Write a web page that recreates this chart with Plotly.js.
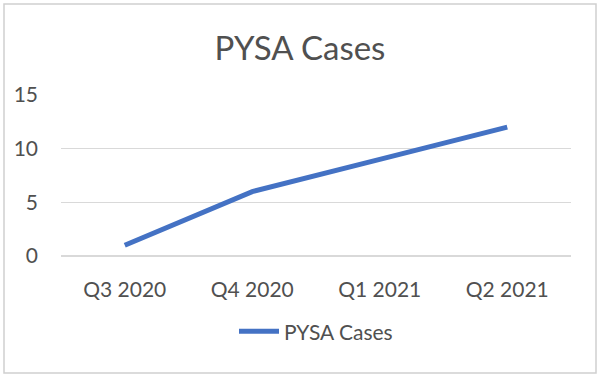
<!DOCTYPE html>
<html>
<head>
<meta charset="utf-8">
<script src="https://cdn.plot.ly/plotly-3.0.1.min.js"></script>
<style>
  html, body { margin: 0; padding: 0; background: #ffffff; }
  #chart { width: 600px; height: 377px; }
</style>
</head>
<body>
<div id="chart"></div>
<script>
const categories = ["Q3 2020", "Q4 2020", "Q1 2021", "Q2 2021"];
const pysaCases = [1, 6, 9, 12];
const seriesName = "PYSA Cases";
const chartTitle = "PYSA Cases";
const yTicks = [0, 5, 10, 15];

const FONT = "Lato, 'Open Sans', sans-serif";
const GRAY = "#505050";

const trace = {
  x: categories,
  y: pysaCases,
  type: "scatter",
  mode: "lines",
  name: seriesName,
  line: { color: "#4472C4", width: 5, shape: "linear" }
};

const layout = {
  width: 600,
  height: 377,
  paper_bgcolor: "#ffffff",
  plot_bgcolor: "#ffffff",
  margin: { l: 61, r: 29, t: 95, b: 121 },
  font: { family: FONT, color: GRAY, size: 21 },
  title: {
    text: chartTitle,
    font: { family: FONT, size: 33, color: GRAY },
    x: 0.5, xanchor: "center",
    y: 1 - 48 / 377, yanchor: "middle"
  },
  xaxis: {
    type: "category",
    range: [-0.5, 3.5],
    showgrid: false,
    zeroline: false,
    showline: false,
    ticks: "",
    ticklabelstandoff: 19,
    tickfont: { family: FONT, size: 21, color: GRAY },
    fixedrange: true
  },
  yaxis: {
    range: [0, 15],
    tickvals: yTicks,
    ticktext: yTicks.map(String),
    showgrid: true,
    gridcolor: "#d9d9d9",
    gridwidth: 1.5,
    zeroline: true,
    zerolinecolor: "#d9d9d9",
    zerolinewidth: 1.5,
    showline: false,
    ticks: "",
    ticklabelstandoff: 22,
    tickfont: { family: FONT, size: 21, color: GRAY },
    fixedrange: true
  },
  showlegend: true,
  legend: {
    orientation: "h",
    x: 0.5, xanchor: "center",
    y: -0.47, yanchor: "middle",
    font: { family: FONT, size: 21, color: GRAY },
    itemwidth: 40
  },
  shapes: [{
    type: "rect", xref: "paper", yref: "paper",
    x0: -57 / 510, x1: 535 / 510,
    y0: -117 / 161, y1: 252 / 161,
    line: { color: "#d0d0d0", width: 1.5 },
    fillcolor: "rgba(0,0,0,0)",
    layer: "below"
  }]
};

Plotly.newPlot("chart", [trace], layout, { displayModeBar: false, staticPlot: true });
</script>
</body>
</html>
